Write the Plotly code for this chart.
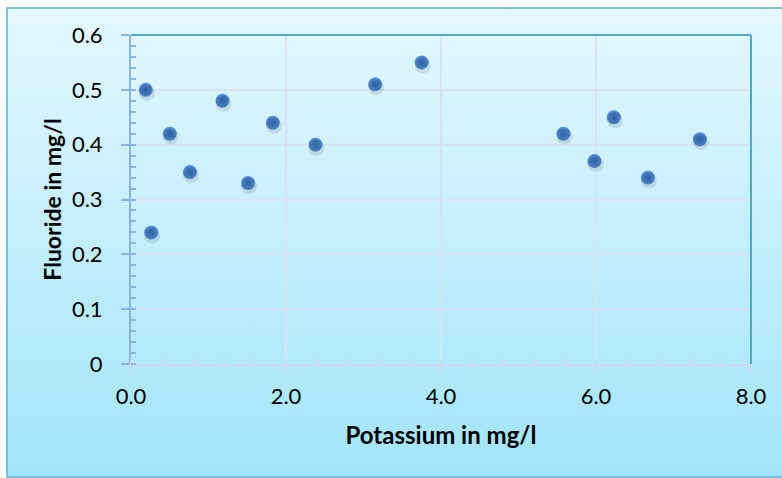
import base64
import plotly.graph_objects as go

# Data
potassium = [0.19, 0.26, 0.50, 0.76, 1.18, 1.51, 1.83, 2.38, 3.15, 3.75, 5.58, 5.98, 6.23, 6.67, 7.34]
fluoride = [0.50, 0.24, 0.42, 0.35, 0.48, 0.33, 0.44, 0.40, 0.51, 0.55, 0.42, 0.37, 0.45, 0.34, 0.41]
x_title = "Potassium in mg/l"
y_title = "Fluoride in mg/l"

W, H = 782, 478
L, R, T, B = 131, 31, 35, 114
pw, ph = W - L - R, H - T - B

x_range = [0, 8]
y_range = [0, 0.6]

# shadow offset (pixels) -> axis range shift
dx_px, dy_px = 1, 3
xs = dx_px * (x_range[1] - x_range[0]) / pw
ys = dy_px * (y_range[1] - y_range[0]) / ph

svg = (
    '<svg xmlns="http://www.w3.org/2000/svg" width="100" height="100" preserveAspectRatio="none">'
    '<defs><linearGradient id="g" x1="0" y1="0" x2="0" y2="1">'
    '<stop offset="0" stop-color="#E4F8FE"/><stop offset="1" stop-color="#A2E4FA"/>'
    '</linearGradient></defs><rect width="100" height="100" fill="url(#g)"/></svg>'
)
src = "data:image/svg+xml;base64," + base64.b64encode(svg.encode()).decode()

fig = go.Figure()

fig.add_trace(go.Scatter(
    x=potassium, y=fluoride, mode="markers", xaxis="x2", yaxis="y2",
    marker=dict(size=16, color="rgba(0,0,0,0.10)", line=dict(width=0)),
    hoverinfo="skip", showlegend=False,
))
fig.add_trace(go.Scatter(
    x=potassium, y=fluoride, mode="markers",
    marker=dict(size=14, color="#5590D8", line=dict(width=0),
                gradient=dict(type="radial", color="#336DB6")),
    showlegend=False,
))

def px2paper_x(px):
    return (px - L) / pw

def px2paper_y(py):
    return (H - B - py) / ph

fig.update_layout(
    width=W, height=H,
    margin=dict(l=L, r=R, t=T, b=B),
    paper_bgcolor="white",
    plot_bgcolor="white",
    font=dict(family="Lato", color="black"),
    images=[dict(
        source=src, xref="paper", yref="paper",
        x=px2paper_x(7), y=px2paper_y(8),
        sizex=(800 - 7) / pw, sizey=(477 - 8) / ph,
        xanchor="left", yanchor="top", sizing="stretch", layer="below",
    )],
    shapes=[
        dict(type="rect", xref="paper", yref="paper",
             x0=px2paper_x(7), x1=px2paper_x(800), y0=px2paper_y(477), y1=px2paper_y(8),
             line=dict(color="#5BB3CC", width=1.5), layer="below"),
        dict(type="line", xref="paper", yref="paper", x0=0, x1=1, y0=1, y1=1,
             line=dict(color="#4FAAC6", width=2)),
        dict(type="line", xref="paper", yref="paper", x0=1, x1=1, y0=0, y1=1,
             line=dict(color="#4FAAC6", width=2)),
    ],
    xaxis=dict(
        range=x_range, dtick=2, tickformat=".1f",
        showgrid=True, gridcolor="#D7E3F3", gridwidth=1.5,
        showline=True, linecolor="#C9D9EE", linewidth=1.5,
        ticks="outside", ticklen=8, tickcolor="#C9D9EE", tickwidth=1.5,
        ticklabelstandoff=4,
        minor=dict(dtick=0.4, ticks="inside", ticklen=5, tickcolor="#C9D9EE", tickwidth=1.5, showgrid=False),
        tickfont=dict(size=22, family="Lato"),
        title=dict(text="<b>" + x_title + "</b>", font=dict(size=24, family="Lato"), standoff=19),
        zeroline=False,
    ),
    yaxis=dict(
        range=y_range, dtick=0.1,
        showgrid=True, gridcolor="#D7E3F3", gridwidth=1.5,
        showline=True, linecolor="#8DB3E2", linewidth=2,
        ticks="outside", ticklen=8, tickcolor="#8DB3E2", tickwidth=1.5,
        ticklabelstandoff=14,
        minor=dict(dtick=0.02, ticks="inside", ticklen=5, tickcolor="#8DB3E2", tickwidth=1.5, showgrid=False),
        tickfont=dict(size=22, family="Lato"),
        title=dict(text="<b>" + y_title + "</b>", font=dict(size=23, family="Lato"), standoff=4),
        zeroline=False,
    ),
    xaxis2=dict(range=[x_range[0] - xs, x_range[1] - xs], overlaying="x", visible=False),
    yaxis2=dict(range=[y_range[0] + ys, y_range[1] + ys], overlaying="y", visible=False),
)

fig.write_html("out.html", config={"displayModeBar": False},
               post_script="document.body.style.margin='0px';")
